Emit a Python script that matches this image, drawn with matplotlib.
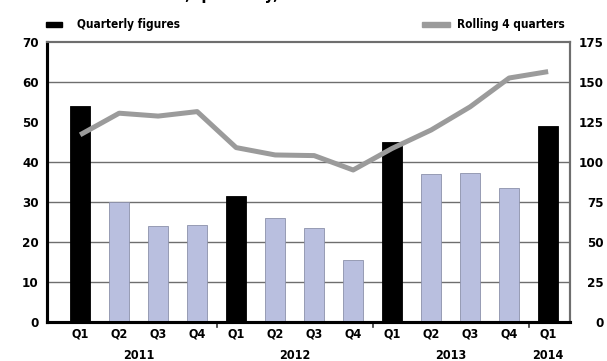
import matplotlib
matplotlib.use("Agg")
import matplotlib.pyplot as plt
import numpy as np
from matplotlib.patches import Rectangle

quarters = ["Q1", "Q2", "Q3", "Q4", "Q1", "Q2", "Q3", "Q4", "Q1", "Q2", "Q3", "Q4", "Q1"]
years = ["2011", "2012", "2013", "2014"]
year_pos = [1.5, 5.5, 9.5, 12]
quarterly = [54, 30, 24, 24.3, 31.4, 26, 23.4, 15.4, 45, 37, 37.3, 33.5, 49]
rolling = [117, 130.5, 128.7, 131.5, 109, 104.4, 104, 95, 108.5, 120, 134.5, 152.5, 156.5]

plt.rcParams['font.family'] = ['Liberation Sans Narrow', 'DejaVu Sans']
plt.rcParams['font.stretch'] = 'condensed'
plt.rcParams['font.weight'] = 'bold'

fig = plt.figure(figsize=(6.07, 3.61), dpi=100)
ax = fig.add_axes([47 / 607, 39 / 361, 523 / 607, 280 / 361])
ax2 = ax.twinx()

x = np.arange(len(quarters))
# Q1 bars in black, the rest light blue
colors = ['black' if q == 'Q1' else '#b9bfdf' for q in quarters]
edges = ['black' if q == 'Q1' else '#8c91aa' for q in quarters]
ax.bar(x, quarterly, width=0.52, color=colors, edgecolor=edges, linewidth=0.6, zorder=3)

for v in [10, 20, 30, 40, 60]:
    ax.axhline(v, color='#6e6e6e', lw=1.0, zorder=1)

ax.set_xlim(-0.85, 12.56)
ax.set_ylim(0, 70)
ax.set_yticks(range(0, 71, 10))
ax.tick_params(axis='y', length=0, pad=6, labelsize=9.5)
ax.set_xticks(x)
ax.set_xticklabels(quarters, fontsize=9)
ax.tick_params(axis='x', length=0, pad=4)
for xs in [3.5, 7.5, 11.5]:
    ax.plot([xs, xs], [0, -1.3], color='#333333', lw=1.2, clip_on=False, zorder=4)

for yr, p in zip(years, year_pos):
    ax.text(p, -8.4, yr, ha='center', va='center', fontsize=9, fontweight='bold')

ax2.plot(x, rolling, color='#9b9b9b', lw=3.6, solid_capstyle='butt', zorder=5)
ax2.set_ylim(0, 175)
ax2.set_yticks(range(0, 176, 25))
ax2.tick_params(axis='y', length=0, pad=24, labelsize=9.5)
for lab in ax2.get_yticklabels():
    lab.set_horizontalalignment('right')

for a in (ax, ax2):
    a.spines['left'].set_color('black')
    a.spines['left'].set_linewidth(2.2)
    a.spines['bottom'].set_color('black')
    a.spines['bottom'].set_linewidth(2.2)
    a.spines['top'].set_color('#6e6e6e')
    a.spines['top'].set_linewidth(1.5)
    a.spines['right'].set_color('#6e6e6e')
    a.spines['right'].set_linewidth(1.5)

# legend across the top
fig.patches.append(Rectangle((46 / 607, 1 - 27 / 361), 16 / 607, 5 / 361,
                             transform=fig.transFigure, color='black'))
fig.text(77 / 607, 1 - 24.5 / 361, 'Quarterly figures', fontsize=8.5, va='center')
fig.patches.append(Rectangle((422 / 607, 1 - 27 / 361), 28 / 607, 5 / 361,
                             transform=fig.transFigure, color='#9b9b9b'))
fig.text(457 / 607, 1 - 24.5 / 361, 'Rolling 4 quarters', fontsize=8.5, va='center')

# title sits mostly above the canvas
fig.text(12 / 607, 1 + 6 / 361, 'EU investment flows, quarterly, EUR bn', fontsize=12,
         va='center', fontweight='bold')

fig.savefig('out.png', dpi=100)
